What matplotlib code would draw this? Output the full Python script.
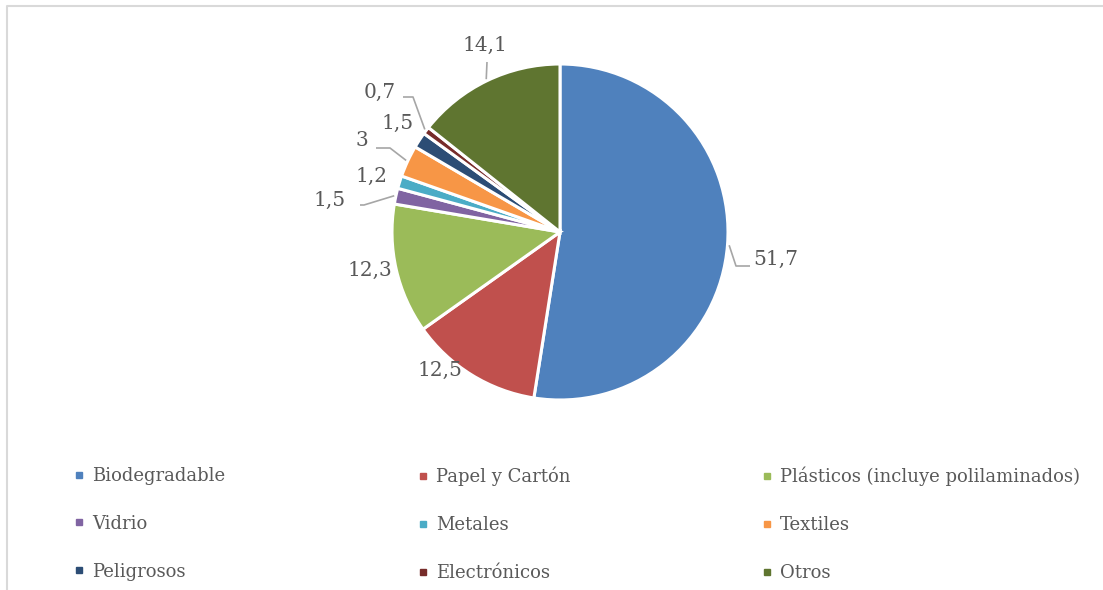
import matplotlib
matplotlib.use("Agg")
import matplotlib.pyplot as plt
from matplotlib.lines import Line2D
import numpy as np

# composition of residues (%)
categories = ["Biodegradable", "Papel y Cartón", "Plásticos (incluye polilaminados)",
              "Vidrio", "Metales", "Textiles", "Peligrosos", "Electrónicos", "Otros"]
values = [51.7, 12.5, 12.3, 1.5, 1.2, 3, 1.5, 0.7, 14.1]
colors = ["#4F81BD", "#C0504D", "#9BBB59", "#8064A2", "#4BACC6",
          "#F79646", "#2C4D75", "#772C2A", "#5F7530"]

# label placement in pixels of the picture (text centre), and leader elbows
label_px = [(776, 259), (440, 370), (370, 270), (330, 200), (372, 176),
            (362, 140), (398, 123), (380, 92), (485, 45)]
leader_px = {0: [(736, 266), (750, 266)],
             3: [(364, 205), (350, 205)],
             5: [(390, 148), (376, 148)],
             7: [(413, 97), (403, 97)],
             8: [(487, 62)]}

W, H = 1103, 590
CX, CY, R = 560, 232, 168
TXT = "#595959"
FONT = "DejaVu Serif"


def to_data(p):
    return (p[0] - CX) / R, (CY - p[1]) / R


fig = plt.figure(figsize=(W / 100, H / 100), dpi=100)
half = 200
ax = fig.add_axes([(CX - half) / W, (H - CY - half) / H, 2 * half / W, 2 * half / H])

wedges, _ = ax.pie(values, colors=colors, startangle=90, counterclock=False,
                   radius=1, wedgeprops=dict(edgecolor="white", linewidth=2.2))
lim = half / R
ax.set_xlim(-lim, lim)
ax.set_ylim(-lim, lim)
ax.set_aspect("equal")
ax.axis("off")

for i, w in enumerate(wedges):
    txt = f"{values[i]:g}".replace(".", ",")
    x, y = to_data(label_px[i])
    ax.text(x, y, txt, ha="center", va="center", fontsize=14.5,
            family=FONT, color=TXT)
    if i in leader_px:
        mid = np.deg2rad((w.theta1 + w.theta2) / 2)
        pts = [(np.cos(mid) * 1.01, np.sin(mid) * 1.01)] + [to_data(p) for p in leader_px[i]]
        xs, ys = zip(*pts)
        ax.plot(xs, ys, color="#A6A6A6", lw=1.2, solid_capstyle="butt")

# legend: three columns, filled row by row
col_x = [74, 418, 762]
for c in range(3):
    idx = [c, c + 3, c + 6]
    handles = [Line2D([], [], ls="none", marker="s", markersize=5,
                      markerfacecolor=colors[i], markeredgecolor=colors[i]) for i in idx]
    fig.legend(handles, [categories[i] for i in idx], loc="upper left",
               bbox_to_anchor=(col_x[c] / W, 1 - 467 / H), frameon=False,
               prop=dict(family=FONT, size=13), labelcolor=TXT,
               handlelength=0.6, handletextpad=0.4, labelspacing=1.65,
               borderpad=0, borderaxespad=0)

# chart area frame (cut at right and bottom)
fx, fy = 6.5 / W, 1 - 5.5 / H
fig.add_artist(Line2D([fx, fx, 1.0], [0.0, fy, fy], transform=fig.transFigure,
                      color="#D9D9D9", lw=1.5))

fig.savefig("out.png", dpi=100)
